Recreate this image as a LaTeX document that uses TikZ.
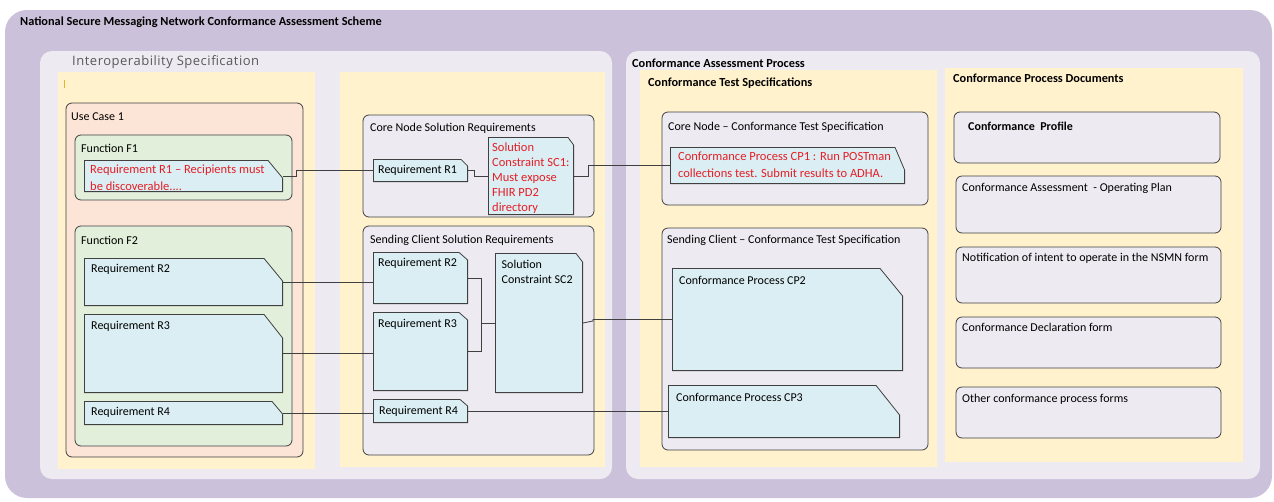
\documentclass[tikz,border=0pt]{standalone}
\usepackage{fontspec}
\setmainfont{Carlito}
\newfontfamily\panelfont[LetterSpace=4]{Open Sans}

\definecolor{schemebg}{RGB}{204,193,218}
\definecolor{panelbg}{RGB}{237,234,242}
\definecolor{colbg}{RGB}{255,242,204}
\definecolor{casebg}{RGB}{252,228,214}
\definecolor{funcbg}{RGB}{226,239,218}
\definecolor{reqbg}{RGB}{218,238,243}
\definecolor{boxline}{RGB}{64,64,64}
\definecolor{reqred}{RGB}{230,30,38}
\definecolor{headgray}{RGB}{89,89,89}
\definecolor{cursor}{RGB}{230,180,40}

\tikzset{
  wh/.style 2 args = {minimum width=#1pt, minimum height=#2pt},
  area/.style = {anchor=north west, inner sep=0pt, outer sep=0pt},
  column/.style = {area, fill=colbg},
  group/.style = {area, draw=boxline, line width=0.8pt, rounded corners=6pt, fill=panelbg},
  % requirement box with the top right corner cut off (#1 across, #2 down)
  req/.style 2 args = {area, path picture={
      \filldraw[draw=boxline, fill=reqbg, line width=0.8pt]
        ([shift={(0.4pt,0.4pt)}]path picture bounding box.south west)
        -- ([shift={(0.4pt,-0.4pt)}]path picture bounding box.north west)
        -- ([shift={(-#1pt,-0.4pt)}]path picture bounding box.north east)
        -- ([shift={(-0.4pt,-#2pt)}]path picture bounding box.north east)
        -- ([shift={(-0.4pt,0.4pt)}]path picture bounding box.south east)
        -- cycle;}},
  tag/.style = {anchor=north west, inner sep=0pt, align=left, font=\fontsize{12}{14}\selectfont},
  redtag/.style = {tag, text=reqred, font=\fontsize{12.5}{17}\selectfont},
  head/.style = {anchor=west, inner sep=0pt, font=\fontsize{12.3}{14}\selectfont\bfseries},
  link/.style = {draw=boxline, line width=0.8pt},
}

\begin{document}
\begin{tikzpicture}[x=1pt, y=-1pt]
\useasboundingbox (0,0) rectangle (1274,501);

% scheme background and the two panels
\node[area, fill=schemebg, rounded corners=22pt, wh={1267}{488}] (scheme) at (5,10) {};
\node[head] (schemeTitle) at (20,22) {National Secure Messaging Network Conformance Assessment Scheme};
\node[area, fill=panelbg, rounded corners=12pt, wh={572}{428}] (interop) at (40,51) {};
\node[area, fill=panelbg, rounded corners=12pt, wh={634}{428}] (process) at (626,51) {};
\node[anchor=west, inner sep=0pt, text=headgray, font=\panelfont\fontsize{13}{15}\selectfont] (interopTitle) at (72,62) {Interoperability Specification};
\node[head] (processTitle) at (632,63) {Conformance Assessment Process};

% yellow columns
\node[column, wh={257}{397}] (colUse) at (58,72) {};
\node[column, wh={265}{395}] (colSol) at (340,72) {};
\node[column, wh={297}{397}] (colTest) at (640,70) {};
\node[column, wh={298}{394}] (colDocs) at (945,68) {};
\draw[cursor, line width=0.8pt] (64,80) -- (64,88);
\node[head] (testTitle) at (648,83) {Conformance Test Specifications};
\node[head] (docsTitle) at (953,78) {Conformance Process Documents};

% use case and its functions
\node[group, fill=casebg, wh={237}{354},
      label={[tag, xshift=5pt, yshift=-10pt]north west:Use Case 1}] (uc1) at (66,103) {};
\node[group, fill=funcbg, wh={217}{65},
      label={[tag, xshift=6pt, yshift=-8.5pt]north west:Function F1}] (fnF1) at (75,135) {};
\node[group, fill=funcbg, wh={217}{220},
      label={[tag, xshift=6pt, yshift=-10pt]north west:Function F2}] (fnF2) at (75,226) {};

\node[req={15}{18}, wh={199}{32},
      label={[redtag, xshift=6pt, yshift=-5pt]north west:Requirement R1 -- Recipients must\\be discoverable....}] (reqR1) at (84,160) {};
\node[req={19}{23}, wh={199}{48},
      label={[tag, xshift=7pt, yshift=-6pt]north west:Requirement R2}] (reqR2) at (84,258) {};
\node[req={19}{24}, wh={199}{79},
      label={[tag, xshift=7pt, yshift=-7pt]north west:Requirement R3}] (reqR3) at (84,314) {};
\node[req={11}{13}, wh={199}{24},
      label={[tag, xshift=7pt, yshift=-6pt]north west:Requirement R4}] (reqR4) at (84,401) {};

% solution requirements
\node[group, wh={231}{102},
      label={[tag, xshift=7pt, yshift=-8pt]north west:Core Node Solution Requirements}] (coreSol) at (363,115) {};
\node[req={7}{7}, wh={95}{23},
      label={[tag, xshift=5pt, yshift=-6pt]north west:Requirement R1}] (solR1) at (373,159) {};
\node[req={6}{8}, wh={86}{78},
      label={[redtag, xshift=4pt, yshift=-6pt, font=\fontsize{12.5}{15}\selectfont]north west:Solution\\Constraint SC1:\\Must expose\\FHIR PD2\\directory}] (solSC1) at (488,137) {};

\node[group, wh={231}{229},
      label={[tag, xshift=7pt, yshift=-8.5pt]north west:Sending Client Solution Requirements}] (sendSol) at (363,226) {};
\node[req={9}{8}, wh={95}{52},
      label={[tag, xshift=5pt, yshift=-6pt]north west:Requirement R2}] (solR2) at (373,252) {};
\node[req={9}{8}, wh={95}{79},
      label={[tag, xshift=5pt, yshift=-7pt]north west:Requirement R3}] (solR3) at (373,312) {};
\node[req={8}{7}, wh={95}{24},
      label={[tag, xshift=6pt, yshift=-7pt]north west:Requirement R4}] (solR4) at (373,399) {};
\node[req={7}{9}, wh={88}{140},
      label={[tag, xshift=6.5pt, yshift=-7pt, font=\fontsize{12}{15}\selectfont]north west:Solution\\Constraint SC2}] (solSC2) at (495,253) {};

% conformance test specifications
\node[group, wh={266}{93},
      label={[tag, xshift=6pt, yshift=-10pt]north west:Core Node -- Conformance Test Specification}] (coreTest) at (662,112) {};
\node[req={10}{23}, wh={235}{37},
      label={[redtag, xshift=8pt, yshift=-5pt]north west:Conformance Process CP1 : Run POSTman\\collections test. Submit results to ADHA.}] (cp1) at (670,147) {};
\node[group, wh={266}{222},
      label={[tag, xshift=5pt, yshift=-7pt]north west:Sending Client -- Conformance Test Specification}] (sendTest) at (662,228) {};
\node[req={23}{28}, wh={231}{103},
      label={[tag, xshift=7pt, yshift=-8.5pt]north west:Conformance Process CP2}] (cp2) at (672,268) {};
\node[req={24}{30}, wh={232}{53},
      label={[tag, xshift=8pt, yshift=-8pt]north west:Conformance Process CP3}] (cp3) at (668,385) {};

% conformance process documents
\node[group, wh={266}{51},
      label={[tag, xshift=14pt, yshift=-10pt, font=\fontsize{12}{14}\selectfont\bfseries]north west:Conformance\ \ Profile}] (profile) at (954,112) {};
\node[group, wh={265}{57},
      label={[tag, xshift=6pt, yshift=-7pt]north west:Conformance Assessment\ \ - Operating Plan}] (opPlan) at (956,176) {};
\node[group, wh={265}{56},
      label={[tag, xshift=6pt, yshift=-6pt]north west:Notification of intent to operate in the NSMN form}] (notice) at (956,247) {};
\node[group, wh={265}{51},
      label={[tag, xshift=6pt, yshift=-6pt]north west:Conformance Declaration form}] (declare) at (956,317) {};
\node[group, wh={265}{51},
      label={[tag, xshift=6pt, yshift=-7pt]north west:Other conformance process forms}] (otherForms) at (956,387) {};

% trace links
\draw[link] (reqR1.east) -- ++(13,0) |- (solR1.west);
\draw[link] (solR1.east) -- ++(6,0) |- (solSC1.west);
\draw[link] (solSC1.east) -- ++(14,0) |- (cp1.west);
\draw[link] (reqR2.east) -- (reqR2.east -| solR2.west);
\draw[link] (reqR3.east) -- (reqR3.east -| solR3.west);
\draw[link] (reqR4.east) -- (reqR4.east -| solR4.west);
\draw[link] (solR2.east) -- ++(13,0) coordinate (join) |- (solR3.east);
\draw[link] (join |- solSC2.west) -- (solSC2.west);
\draw[link] (solSC2.east) -- ++(10,-2) |- (cp2.west);
\draw[link] (solR4.east) -- (solR4.east -| cp3.west);
\end{tikzpicture}
\end{document}
